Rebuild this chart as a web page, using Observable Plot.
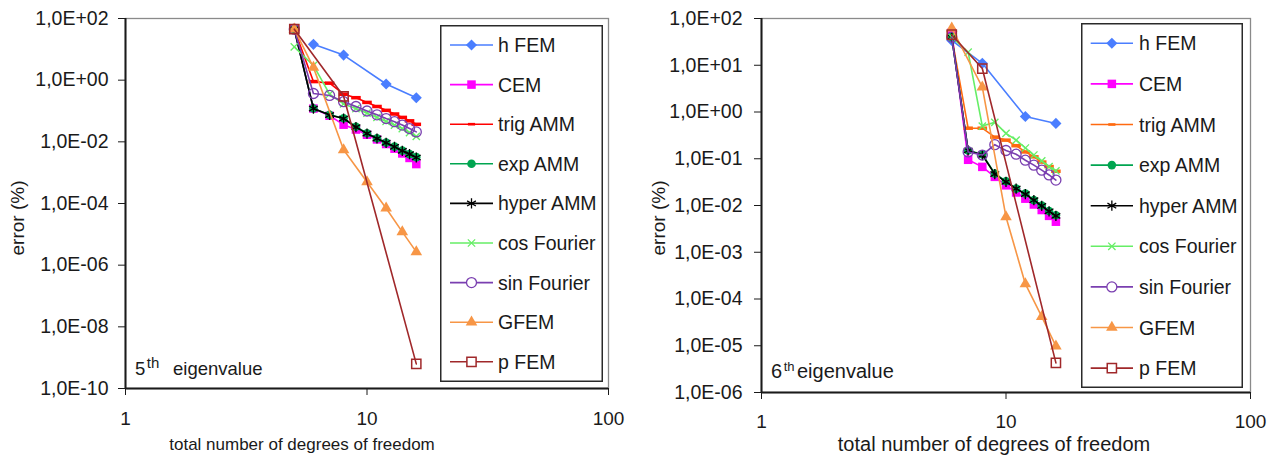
<!DOCTYPE html>
<html>
<head>
<meta charset="utf-8">
<script src="https://cdn.jsdelivr.net/npm/d3@7"></script>
<script src="https://cdn.jsdelivr.net/npm/@observablehq/plot@0.6"></script>
<style>
  body { margin: 0; background: #fff; font-family: "Liberation Sans", Arial, sans-serif; }
  #wrap { position: relative; width: 1276px; height: 457px; overflow: hidden; background: #fff; }
  .chart { position: absolute; top: 0; }
  .legend { position: absolute; }
</style>
</head>
<body>
<div id="wrap"></div>
<script>
// ---------------- data ----------------
const seriesNames = ["h FEM", "CEM", "trig AMM", "exp AMM", "hyper AMM", "cos Fourier", "sin Fourier", "GFEM", "p FEM"];

// 5th eigenvalue (left)
const dof5 = [5, 6, 7, 8, 9, 10, 11, 12, 13, 14, 15, 16];
const hFEM_dof5 = [6, 8, 12, 16];
const hFEM_5 = [14.5, 6.5, 0.75, 0.27];
const CEM_5 = [45, 0.12, 0.07, 0.036, 0.025, 0.017, 0.012, 0.0085, 0.006, 0.0042, 0.003, 0.0019];
const trigAMM_5 = [45, 0.9, 0.8, 0.35, 0.27, 0.19, 0.14, 0.105, 0.08, 0.062, 0.048, 0.037];
const expAMM_5 = [45, 0.12, 0.075, 0.058, 0.031, 0.019, 0.013, 0.0094, 0.007, 0.0052, 0.004, 0.0032];
const hyperAMM_5 = [45, 0.12, 0.074, 0.057, 0.030, 0.0185, 0.0128, 0.0093, 0.0069, 0.0051, 0.004, 0.0031];
const cosFourier_5 = [12, 3, 0.35, 0.17, 0.12, 0.085, 0.062, 0.046, 0.035, 0.027, 0.02, 0.015];
const sinFourier_5 = [45, 0.37, 0.32, 0.2, 0.14, 0.1, 0.075, 0.057, 0.045, 0.035, 0.027, 0.021];
const GFEM_dof5 = [5, 6, 8, 10, 12, 14, 16];
const GFEM_5 = [45, 2.6, 0.0055, 5e-4, 7e-5, 1.2e-5, 2.7e-6];
const pFEM_dof5 = [5, 8, 16];
const pFEM_5 = [45, 0.3, 6.3e-10];

// 6th eigenvalue (right)
const dof6 = [6, 7, 8, 9, 10, 11, 12, 13, 14, 15, 16];
const hFEM_dof6 = [6, 8, 12, 16];
const hFEM_6 = [34, 11, 0.8, 0.57];
const CEM_6 = [50, 0.095, 0.067, 0.041, 0.027, 0.019, 0.014, 0.0105, 0.008, 0.006, 0.0045];
const trigAMM_6 = [40, 0.45, 0.45, 0.29, 0.25, 0.19, 0.14, 0.11, 0.085, 0.068, 0.054];
const expAMM_6 = [40, 0.15, 0.125, 0.048, 0.033, 0.023, 0.018, 0.013, 0.010, 0.0076, 0.0062];
const hyperAMM_6 = [40, 0.15, 0.12, 0.047, 0.032, 0.023, 0.0175, 0.013, 0.0098, 0.0075, 0.006];
const cosFourier_6 = [40, 19, 0.5, 0.6, 0.35, 0.25, 0.17, 0.12, 0.09, 0.068, 0.055];
const sinFourier_6 = [40, 0.14, 0.12, 0.2, 0.15, 0.125, 0.093, 0.073, 0.057, 0.045, 0.035];
const GFEM_dof6 = [6, 8, 10, 12, 14, 16];
const GFEM_6 = [62, 3.4, 0.0057, 2.1e-4, 4.2e-5, 9.8e-6];
const pFEM_dof6 = [6, 8, 16];
const pFEM_6 = [45, 8.5, 4.3e-6];

// tick labels
const xTickLabels = ["1", "10", "100"];
const yTickLabels5 = ["1,0E-10", "1,0E-08", "1,0E-06", "1,0E-04", "1,0E-02", "1,0E+00", "1,0E+02"];
const yTickLabels6 = ["1,0E-06", "1,0E-05", "1,0E-04", "1,0E-03", "1,0E-02", "1,0E-01", "1,0E+00", "1,0E+01", "1,0E+02"];

const xTitle = "total number of degrees of freedom";
const yTitle = "error (%)";

// ---------------- styles ----------------
const dash = {
  draw(ctx, size) {
    const s = Math.sqrt(size);
    ctx.rect(-s * 0.6, -s * 0.22, s * 1.2, s * 0.44);
  }
};
const styleOf = {
  "h FEM":       {color: "#4a7eff", symbol: d3.symbolDiamond2, filled: true, r: 5},
  "CEM":         {color: "#ff00ff", symbol: d3.symbolSquare, filled: true, r: 4.8},
  "trig AMM":    {color: "#ff0000", symbol: dash, filled: true, r: 4.5},
  "exp AMM":     {color: "#00a550", symbol: d3.symbolCircle, filled: true, r: 4.3},
  "hyper AMM":   {color: "#000000", symbol: d3.symbolAsterisk, filled: false, r: 4.8, sw: 1.3},
  "cos Fourier": {color: "#66ee66", symbol: d3.symbolTimes, filled: false, r: 3.4, sw: 1.3},
  "sin Fourier": {color: "#7a3fb0", symbol: d3.symbolCircle, filled: false, r: 5, sw: 1.3},
  "GFEM":        {color: "#f79646", symbol: d3.symbolTriangle, filled: true, r: 4.3},
  "p FEM":       {color: "#a0282a", symbol: d3.symbolSquare, filled: false, r: 5.2, sw: 1.5}
};

const fontFamily = "'Liberation Sans', Arial, sans-serif";
const parseTick = s => Number(s.replace(",", "."));

function chartSeries(which) {
  if (which === 5) return [
    {name: "h FEM", x: hFEM_dof5, y: hFEM_5},
    {name: "CEM", x: dof5, y: CEM_5},
    {name: "trig AMM", x: dof5, y: trigAMM_5},
    {name: "exp AMM", x: dof5, y: expAMM_5},
    {name: "hyper AMM", x: dof5, y: hyperAMM_5},
    {name: "cos Fourier", x: dof5, y: cosFourier_5},
    {name: "sin Fourier", x: dof5, y: sinFourier_5},
    {name: "GFEM", x: GFEM_dof5, y: GFEM_5},
    {name: "p FEM", x: pFEM_dof5, y: pFEM_5}
  ];
  return [
    {name: "h FEM", x: hFEM_dof6, y: hFEM_6},
    {name: "CEM", x: dof6, y: CEM_6},
    {name: "trig AMM", x: dof6, y: trigAMM_6},
    {name: "exp AMM", x: dof6, y: expAMM_6},
    {name: "hyper AMM", x: dof6, y: hyperAMM_6},
    {name: "cos Fourier", x: dof6, y: cosFourier_6},
    {name: "sin Fourier", x: dof6, y: sinFourier_6},
    {name: "GFEM", x: GFEM_dof6, y: GFEM_6},
    {name: "p FEM", x: pFEM_dof6, y: pFEM_6}
  ];
}

function makeChart(cfg) {
  const series = chartSeries(cfg.which);
  const xTicks = xTickLabels.map(Number);
  const yTicks = cfg.yTickLabels.map(parseTick);
  const yLabelOf = new Map(yTicks.map((v, i) => [v, cfg.yTickLabels[i]]));
  const marks = [Plot.frame({stroke: "#8a8a8a", strokeWidth: 1.3})];
  for (const s of series) {
    const st = Object.assign({}, styleOf[s.name], (cfg.override || {})[s.name] || {});
    const rows = s.x.map((x, i) => ({x, y: s.y[i]}));
    marks.push(Plot.line(rows, {x: "x", y: "y", stroke: st.color, strokeWidth: 1.6}));
    marks.push(Plot.dot(rows, {
      x: "x", y: "y", symbol: st.symbol, r: st.r,
      fill: st.filled ? st.color : "none",
      stroke: st.filled ? "none" : st.color,
      strokeWidth: st.sw || 1
    }));
  }
  marks.push(
    Plot.ruleX([xTicks[0]], {stroke: "#1a1a1a", strokeWidth: 2}),
    Plot.ruleY([yTicks[0]], {stroke: "#1a1a1a", strokeWidth: 2}),
    Plot.axisX({ticks: xTicks, tickFormat: d => String(d), tickSize: 7, tickPadding: cfg.xTickPad, label: null, fontSize: 19}),
    Plot.axisY({ticks: yTicks, tickFormat: d => yLabelOf.get(d), tickSize: 7, tickPadding: cfg.yTickPad, label: null, fontSize: 19.5}),
    Plot.text([yTitle], {text: d => d, frameAnchor: "left", textAnchor: "middle", lineAnchor: "middle",
      rotate: -90, dx: cfg.yTitleDx, dy: cfg.yTitleDy, fontSize: 19}),
    Plot.text([xTitle], {text: d => d, frameAnchor: "bottom", textAnchor: "middle", lineAnchor: "middle",
      dx: cfg.xTitleDx, dy: cfg.xTitleDy, fontSize: cfg.xTitleSize})
  );
  const svg = Plot.plot({
    width: cfg.width, height: 457,
    marginLeft: cfg.ml, marginRight: cfg.mr, marginTop: cfg.mt, marginBottom: cfg.mb,
    x: {type: "log", domain: [xTicks[0], xTicks[xTicks.length - 1]]},
    y: {type: "log", domain: [yTicks[0], yTicks[yTicks.length - 1]]},
    style: {fontFamily, fontSize: "19px", color: "#1a1a1a", background: "transparent", overflow: "visible"},
    marks
  });
  // eigenvalue annotation with superscript
  const t = d3.select(svg).append("text")
    .attr("text-anchor", "start")
    .attr("y", cfg.eig.y)
    .attr("font-size", cfg.eig.size).attr("fill", "#1a1a1a").attr("font-family", fontFamily);
  t.append("tspan").attr("x", cfg.eig.x).text(cfg.eig.num);
  t.append("tspan").attr("font-size", cfg.eig.supSize).attr("dx", 1.5).attr("dy", -7).text("th");
  t.append("tspan").attr("x", cfg.eig.x + cfg.eig.gap).attr("dy", 7).text("eigenvalue");
  svg.classList.add("chart");
  svg.style.left = cfg.left + "px";
  return svg;
}

function makeLegend(cfg) {
  const svg = d3.create("svg")
    .attr("class", "legend")
    .attr("width", cfg.w).attr("height", cfg.h)
    .style("left", cfg.left + "px").style("top", cfg.top + "px")
    .style("font-family", fontFamily);
  svg.append("rect").attr("x", 0.75).attr("y", 0.75)
    .attr("width", cfg.w - 1.5).attr("height", cfg.h - 1.5)
    .attr("fill", "#fff").attr("stroke", "#2a2a2a").attr("stroke-width", 1.5);
  seriesNames.forEach((name, i) => {
    const st = Object.assign({}, styleOf[name], (cfg.override || {})[name] || {});
    const y = cfg.y0 + i * cfg.dy;
    const g = svg.append("g");
    g.append("line").attr("x1", cfg.lx1).attr("x2", cfg.lx2).attr("y1", y).attr("y2", y)
      .attr("stroke", st.color).attr("stroke-width", 1.6);
    const r = name === "trig AMM" ? st.r * 0.75 : st.r;
    g.append("path")
      .attr("transform", `translate(${(cfg.lx1 + cfg.lx2) / 2},${y})`)
      .attr("d", d3.symbol(st.symbol, r * r * Math.PI)())
      .attr("fill", st.filled ? st.color : "#fff")
      .attr("stroke", st.filled ? "none" : st.color)
      .attr("stroke-width", st.sw || 1);
    g.append("text").attr("x", cfg.tx).attr("y", y).attr("dy", "0.36em")
      .attr("font-size", 19.5).attr("fill", "#1a1a1a").text(name);
  });
  return svg.node();
}

const wrap = document.getElementById("wrap");
wrap.appendChild(makeChart({
  which: 5, left: 0, width: 620, ml: 125, mr: 12, mt: 18, mb: 69,
  yTickLabels: yTickLabels5, xTickPad: 16, yTickPad: 10,
  yTitleDx: -108, yTitleDy: 14.5, xTitleDx: -65, xTitleDy: 56.5, xTitleSize: 17,
  eig: {x: 135, y: 375, size: 18.5, supSize: 15, num: "5", gap: 38}
}));
wrap.appendChild(makeChart({
  which: 6, left: 638, width: 638, ml: 123, mr: 26, mt: 18, mb: 65,
  yTickLabels: yTickLabels6, xTickPad: 15, yTickPad: 12,
  yTitleDx: -103, yTitleDy: 12.5, xTitleDx: -12, xTitleDy: 52, xTitleSize: 20,
  eig: {x: 133, y: 378, size: 20, supSize: 13, num: "6", gap: 26},
  override: {"trig AMM": {color: "#ff6a10"}}
}));
wrap.appendChild(makeLegend({
  left: 440, top: 25, w: 163, h: 357, y0: 20, dy: 39.6, lx1: 10, lx2: 53, tx: 58
}));
wrap.appendChild(makeLegend({
  left: 1081, top: 23, w: 162, h: 365, y0: 20.3, dy: 40.6, lx1: 9.7, lx2: 52, tx: 58,
  override: {"trig AMM": {color: "#ff6a10"}}
}));
</script>
</body>
</html>
